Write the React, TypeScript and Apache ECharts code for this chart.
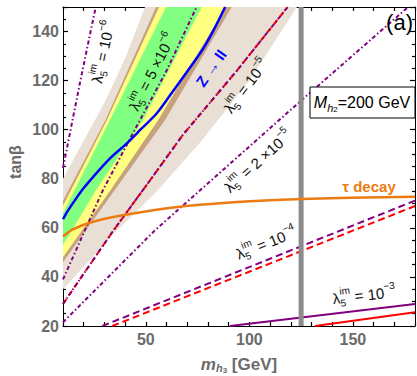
import React, { useEffect, useRef } from "react";
import * as echarts from "echarts";

// Axis ranges
const X_MIN = 10;
const X_MAX = 180;
const Y_MIN = 20;
const Y_MAX = 150;
const X_TICK_LABELS = [50, 100, 150];
const HIGGS_MASS = 125; // vertical gray line, GeV

// Allowed-region bands: left edge (bottom -> top), right edge (top -> bottom)
const beigeLeft = [[10, 80], [20, 95.5], [30, 111], [40, 129], [49.6, 150]];
const beigeRight = [[123, 150], [100, 120], [76, 94.6], [55, 74.6], [35, 58], [10, 35]];
const brownLeft = [[10, 71], [30.5, 104], [55, 150]];
const brownRight = [[91.5, 150], [59.3, 104], [35, 75.4], [10, 46]];
const yellowLeft = [[10, 69], [31.2, 104], [56.4, 150]];
const yellowRight = [[88.5, 150], [56, 104], [33, 75.4], [10, 48]];
const greenLeft = [[10, 66], [32.7, 104], [59.8, 150]];
const greenRight = [[77, 150], [48.7, 104], [26, 75.4], [10, 53]];

// lambda_5^im contours
const lam1e6 = [[10, 84.4], [18.4, 120], [25.8, 150]];
const lam5e6 = [[10, 39], [18.2, 54.5], [29.3, 75.4], [43.8, 98.6], [60, 124], [74.5, 150]];
const lam1e5 = [[10, 29], [34, 58.5], [50, 77], [68, 98], [93.9, 124], [118.5, 150]];
const lam2e5 = [[10, 21.5], [54.4, 59], [74.6, 74.1], [124.5, 111.5], [176.7, 150]];
const lam1e4Purple = [[29, 20], [180, 71.1]];
const lam1e4Red = [[33.8, 20], [180, 68.9]];
const lam1e3Purple = [[90.6, 20], [180, 29]];
const lam1e3Red = [[131.7, 20], [180, 25.6]];

// tau decay bound and Z -> ll curve
const tauDecay = [[10, 56.5], [15, 59.5], [24.6, 62.5], [40.8, 65.4], [66.5, 68.6], [100, 70.8], [125, 71.8], [180, 72.7]];
const zToLL = [[10, 63.5], [12, 66.5], [15.8, 71.3], [19.8, 76], [24.6, 80.8], [32.7, 88.3], [40.8, 94.4], [48, 100.5], [55.3, 106.7], [61.7, 114], [70.5, 124.3], [77.8, 133.2], [83, 141], [88.3, 150]];

const FONT = '"Liberation Sans", Arial, Helvetica, sans-serif';
const GRAY = "#6b6b6b";
const PURPLE = "#800080";
const RED = "#ff0000";
const ORANGE = "#ec7c12";
const DASH_DOT = [4, 2.5, 1.5, 2.5];

const ctx = document.createElement("canvas").getContext("2d") as CanvasRenderingContext2D;
const textWidth = (t: string, size: number, weight = "normal", style = "normal") => {
  ctx.font = `${style} ${weight} ${size}px ${FONT}`;
  return ctx.measureText(t).width;
};

type Piece = { t: string; size: number; dy: number; weight?: string; italic?: boolean; stack?: Piece };

// Lays a run of text pieces left to right, centered on (0,0); a piece with a
// "stack" partner shares its horizontal slot (sub/superscript pair).
const runChildren = (pieces: Piece[], fill: string, z: number) => {
  let x = 0;
  const out: any[] = [];
  const mk = (p: Piece, px: number) => ({
    type: "text",
    x: px,
    y: p.dy,
    z,
    style: {
      text: p.t,
      fontSize: p.size,
      fontFamily: FONT,
      fontWeight: p.weight || "normal",
      fontStyle: p.italic ? "italic" : "normal",
      fill,
      align: "left",
      verticalAlign: "middle",
    },
  });
  for (const p of pieces) {
    const w1 = textWidth(p.t, p.size, p.weight, p.italic ? "italic" : "normal");
    out.push(mk(p, x));
    let w = w1;
    if (p.stack) {
      out.push(mk(p.stack, x));
      w = Math.max(w1, textWidth(p.stack.t, p.stack.size, p.stack.weight));
    }
    x += w;
  }
  out.forEach((c) => (c.x -= x / 2));
  return out;
};

const lambdaPieces = (coef: string, exp: string): Piece[] => [
  { t: "λ", size: 15, dy: 0 },
  { t: "im", size: 10, dy: -6.5, stack: { t: "5", size: 10, dy: 5.5 } },
  { t: " = " + coef, size: 15, dy: 0 },
  { t: exp, size: 10, dy: -6.5 },
];

const lambdaLabels = [
  { at: [29.3, 131.7], deg: 78, coef: "10", exp: "−6" },
  { at: [53, 123.6], deg: 63, coef: "5 ×10", exp: "−6" },
  { at: [98.4, 117.8], deg: 53, coef: "10", exp: "−5" },
  { at: [104.2, 87.2], deg: 42, coef: "2 ×10", exp: "−5" },
  { at: [108.1, 53.8], deg: 21.5, coef: "10", exp: "−4" },
  { at: [155.4, 32.6], deg: 6.5, coef: "10", exp: "−3" },
];

const polygonSeries = (left: number[][], right: number[][], fill: string, z: number) => ({
  type: "custom",
  silent: true,
  z,
  data: [[X_MIN, Y_MIN]],
  renderItem: (_p: any, api: any) => ({
    type: "polygon",
    shape: { points: [...left, ...right].map((pt) => api.coord(pt)) },
    style: { fill },
  }),
});

const lineSeries = (data: number[][], color: string, width: number, type: any, z: number, smooth: number | boolean = false) => ({
  type: "line",
  data,
  symbol: "none",
  showSymbol: false,
  smooth,
  silent: true,
  z,
  lineStyle: { color, width, type, cap: "butt" },
});

const axisCommon = {
  type: "value",
  axisLine: { show: true, onZero: false, lineStyle: { color: "#000", width: 1 } },
  axisTick: { show: true, inside: true, length: 5, lineStyle: { color: "#000", width: 1.2 } },
  splitLine: { show: false },
};

export default function App() {
  const ref = useRef<HTMLDivElement>(null);
  useEffect(() => {
    if (!ref.current) return;
    const chart = echarts.init(ref.current, undefined, { renderer: "svg" });
    const labelStyle = { color: GRAY, fontWeight: "bold", fontSize: 16, fontFamily: FONT };
    chart.setOption({
      animation: false,
      backgroundColor: "#fff",
      grid: { left: 63, right: 2, top: 7, bottom: 50, containLabel: false, outerBoundsMode: "none" },
      xAxis: [
        {
          ...axisCommon,
          min: X_MIN,
          max: X_MAX,
          interval: 10,
          position: "bottom",
          axisTick: { ...axisCommon.axisTick, length: 4 },
          axisLabel: {
            ...labelStyle,
            margin: 5,
            formatter: (v: number) => (X_TICK_LABELS.includes(v) ? String(v) : ""),
          },
        },
        {
          ...axisCommon,
          min: X_MIN,
          max: X_MAX,
          interval: 10,
          position: "top",
          axisTick: { ...axisCommon.axisTick, length: 4 },
          axisLabel: { show: false },
        },
      ],
      yAxis: [
        {
          ...axisCommon,
          min: Y_MIN,
          max: Y_MAX,
          interval: 20,
          position: "left",
          minorTick: { show: true, splitNumber: 4, length: 3, lineStyle: { color: "#000", width: 1.2 } },
          axisLabel: { ...labelStyle, margin: 4, showMaxLabel: false },
        },
        {
          ...axisCommon,
          min: Y_MIN,
          max: Y_MAX,
          interval: 20,
          position: "right",
          minorTick: { show: true, splitNumber: 4, length: 3, lineStyle: { color: "#000", width: 1.2 } },
          axisLabel: { show: false },
        },
      ],
      series: [
        polygonSeries(beigeLeft, beigeRight, "#e9dfd5", 1),
        polygonSeries(brownLeft, brownRight, "#c6a27e", 2),
        polygonSeries(yellowLeft, yellowRight, "#ffff80", 3),
        polygonSeries(greenLeft, greenRight, "#80ff80", 4),
        lineSeries(lam1e6, PURPLE, 2, DASH_DOT, 10),
        lineSeries(lam5e6, PURPLE, 2, DASH_DOT, 10),
        lineSeries(lam1e5, RED, 2, [6, 4], 10),
        lineSeries(lam1e5, PURPLE, 2, DASH_DOT, 11),
        lineSeries(lam2e5, PURPLE, 2, DASH_DOT, 10),
        lineSeries(lam1e4Red, RED, 2, [7, 4], 10),
        lineSeries(lam1e4Purple, PURPLE, 2, [7, 4], 10),
        lineSeries(lam1e3Red, RED, 2, "solid", 10),
        lineSeries(lam1e3Purple, PURPLE, 2, "solid", 10),
        lineSeries(zToLL, "#0000ff", 2.5, "solid", 12, 0.3),
        lineSeries([[HIGGS_MASS, Y_MIN], [HIGGS_MASS, Y_MAX]], "#8c8c8c", 5, "solid", 13),
        lineSeries(tauDecay, ORANGE, 2.5, "solid", 14, 0.3),
      ],
    });

    const px = (p: number[]) => chart.convertToPixel({ gridIndex: 0 }, p) as number[];
    const graphics: any[] = [];
    lambdaLabels.forEach((l) => {
      const [x, y] = px(l.at);
      graphics.push({
        type: "group",
        x,
        y,
        rotation: (l.deg * Math.PI) / 180,
        children: runChildren(lambdaPieces(l.coef, l.exp), "#111", 50),
      });
    });
    const [zx, zy] = px([81.5, 125.1]);
    graphics.push({
      type: "group",
      x: zx,
      y: zy,
      rotation: (55 * Math.PI) / 180,
      children: runChildren([{ t: "Z → ll", size: 15, dy: 0, weight: "bold" }], "#0000ff", 50),
    });
    const [tx, ty] = px([157.8, 77.0]);
    graphics.push({
      type: "group",
      x: tx,
      y: ty,
      children: runChildren([{ t: "τ decay", size: 15, dy: 0, weight: "bold" }], ORANGE, 50),
    });
    // Benchmark mass box
    graphics.push({
      type: "rect",
      z: 60,
      shape: { x: 310, y: 87, width: 105, height: 31 },
      style: { fill: "#fff", stroke: "#000", lineWidth: 1 },
    });
    graphics.push({
      type: "group",
      x: 362,
      y: 102.5,
      children: runChildren(
        [
          { t: "M", size: 16, dy: 0, italic: true },
          { t: "h", size: 11, dy: 5, italic: true },
          { t: "2", size: 8, dy: 7 },
          { t: "=200 GeV", size: 16, dy: 0 },
        ],
        "#000",
        61
      ),
    });
    graphics.push({
      type: "text",
      x: 413,
      y: 22,
      z: 61,
      style: { text: "(a)", fontSize: 22, fontFamily: FONT, fill: "#000", align: "right", verticalAlign: "middle" },
    });
    // Axis titles
    graphics.push({
      type: "group",
      x: 15,
      y: 162,
      rotation: Math.PI / 2,
      children: runChildren([{ t: "tanβ", size: 16, dy: 0, weight: "bold" }], GRAY, 50),
    });
    graphics.push({
      type: "group",
      x: 239,
      y: 364,
      children: runChildren(
        [
          { t: "m", size: 17, dy: 0, weight: "bold", italic: true },
          { t: "h", size: 11, dy: 4, weight: "bold", italic: true },
          { t: "3", size: 8, dy: 6, weight: "bold" },
          { t: " [GeV]", size: 17, dy: 0, weight: "bold" },
        ],
        GRAY,
        50
      ),
    });
    chart.setOption({ graphic: graphics });
    return () => chart.dispose();
  }, []);
  return <div ref={ref} style={{ position: "absolute", left: 0, top: 0, width: 417, height: 376 }} />;
}
